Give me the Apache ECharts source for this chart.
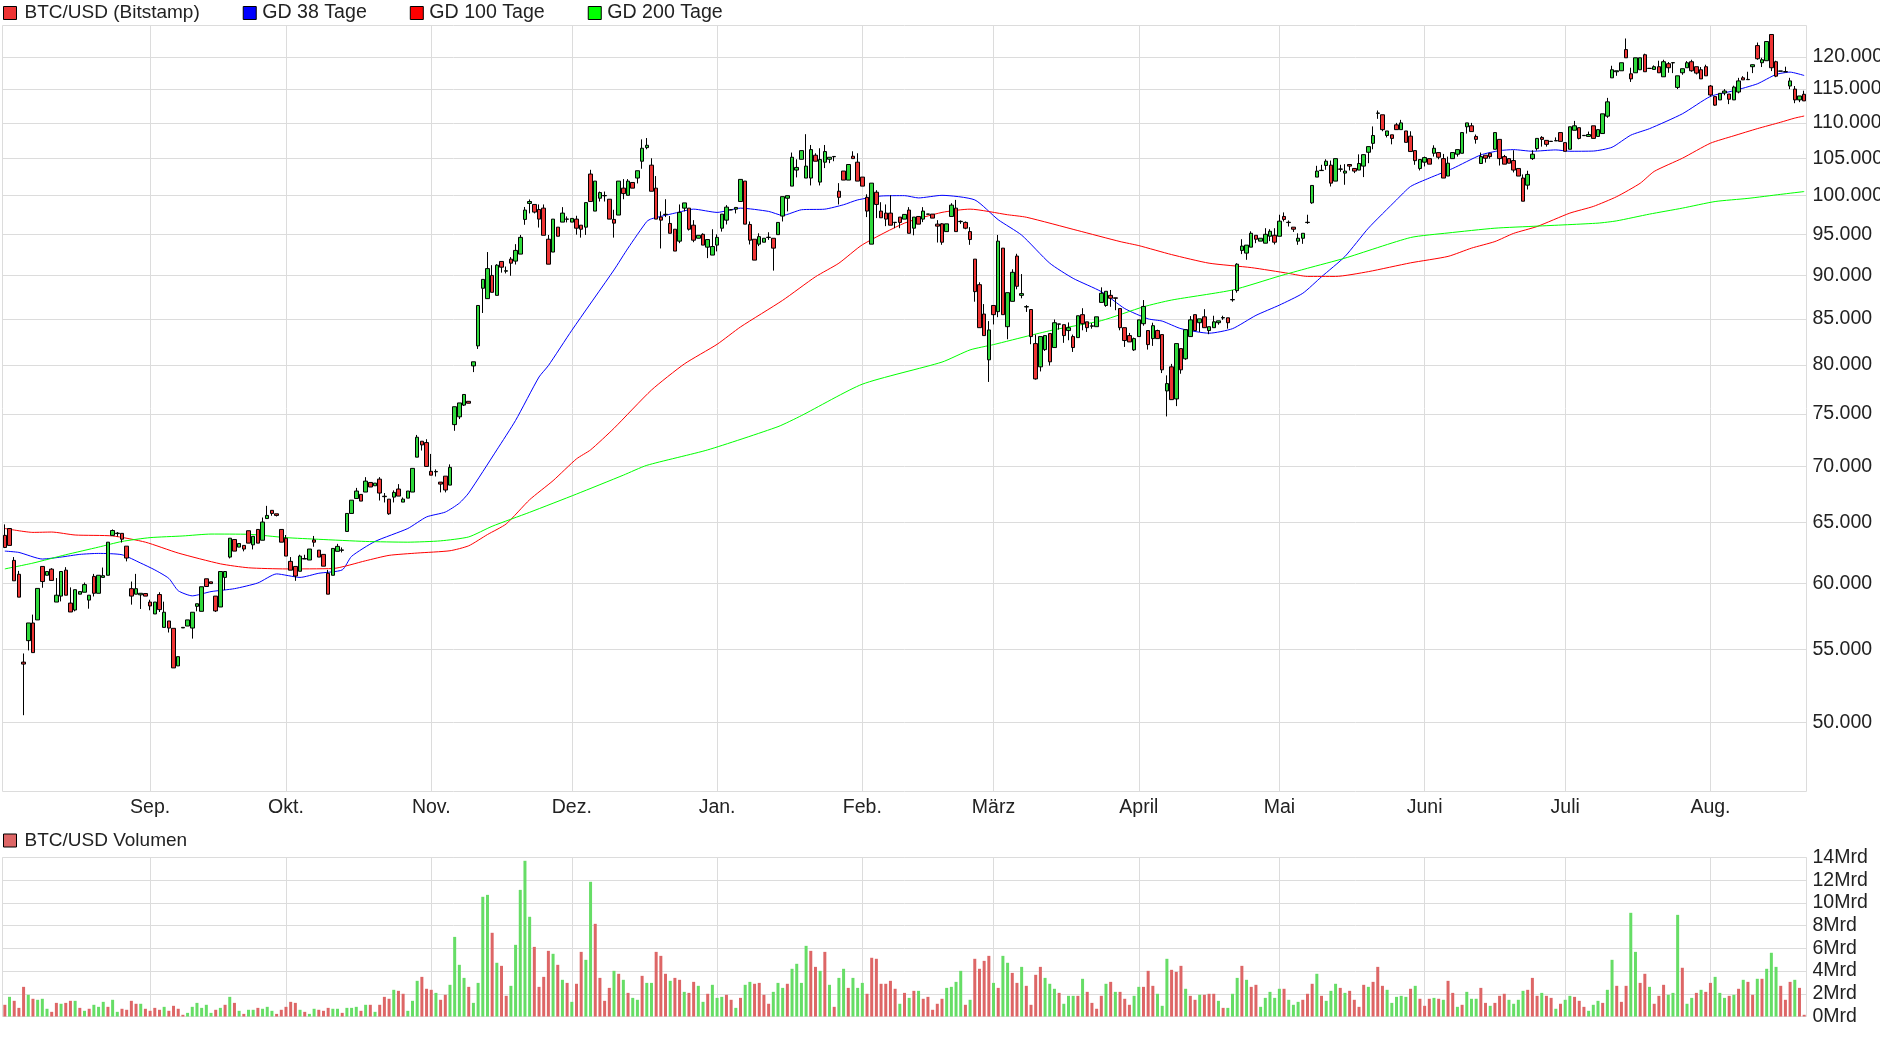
<!DOCTYPE html>
<html><head><meta charset="utf-8"><style>html,body{margin:0;padding:0;background:#fff}#c{width:1880px;height:1037px}</style>
<script src="https://cdn.jsdelivr.net/npm/echarts@6/dist/echarts.min.js"></script></head><body><div id="c"></div>
<script>
// Prices in thousands of USD, one entry per daily candle.
const opens=[63.93,64.51,61.86,60.74,54.11,55.66,56.97,57.20,61.37,60.66,
61.15,58.56,59.02,61.07,58.48,57.95,59.17,59.32,58.71,60.57,
59.24,60.49,60.66,63.93,64.08,64.10,63.03,59.60,59.17,59.12,
59.22,58.56,57.65,59.14,56.64,57.12,56.57,53.84,56.60,56.74,
56.59,58.23,57.85,60.38,60.14,59.02,58.18,60.49,62.13,63.58,
62.95,63.09,64.32,63.14,64.43,63.52,65.36,66.07,65.77,64.43,
63.69,61.78,61.37,60.98,61.97,61.89,63.55,62.70,62.35,60.82,
60.66,62.60,62.68,64.26,65.80,67.11,67.47,67.68,68.54,68.24,
68.84,67.27,67.05,67.23,67.95,66.79,67.14,67.68,70.86,72.36,
72.23,69.55,69.50,68.57,69.11,68.30,73.96,74.72,75.88,76.26,
79.90,82.03,88.49,87.29,90.00,87.67,91.67,90.50,91.95,91.71,
92.56,96.88,98.94,98.81,98.16,98.33,94.39,92.81,95.90,96.54,
96.94,96.54,96.92,96.15,95.90,102.84,97.95,99.62,99.94,99.49,
96.88,97.44,100.95,100.00,101.71,102.30,104.59,106.48,104.05,100.95,
97.18,97.50,96.37,95.64,94.15,98.33,98.33,96.15,94.51,95.00,
93.41,92.44,93.66,95.77,96.79,98.10,98.20,99.19,101.89,96.24,
94.39,93.78,94.02,94.60,94.51,94.96,97.31,99.62,101.22,103.38,
104.86,102.30,102.30,105.42,101.76,104.46,104.86,105.21,100.54,103.25,
102.03,105.28,104.46,102.43,99.74,93.78,100.41,97.95,97.69,97.69,
96.52,97.18,96.92,98.08,95.77,97.26,96.92,97.54,97.56,96.28,
96.32,95.34,97.26,98.33,96.60,96.50,95.34,91.95,88.91,85.54,
80.54,86.51,85.81,93.29,84.13,86.98,92.32,87.67,86.34,86.05,
82.28,79.80,81.63,83.37,81.85,84.40,84.35,83.70,83.04,82.93,
85.47,84.67,84.18,84.13,86.86,86.51,87.67,87.38,86.16,84.02,
83.15,81.60,83.04,84.46,83.70,82.82,83.70,83.26,77.31,79.80,
76.50,81.74,80.65,83.04,85.47,84.57,85.23,83.70,84.02,84.57,
85.10,85.12,87.15,88.22,93.01,92.68,93.41,94.88,94.15,93.90,
94.76,94.88,94.76,97.26,96.48,95.90,94.15,94.51,96.48,99.02,
102.43,103.31,104.01,104.05,101.89,103.49,102.97,104.14,103.60,103.38,
103.92,105.83,107.08,111.40,111.18,108.19,108.29,109.72,109.03,108.84,
108.10,106.06,103.60,104.46,104.95,105.69,105.79,104.95,102.57,104.95,
105.56,105.69,109.44,109.58,108.06,104.28,105.42,105.69,106.25,107.64,
105.23,104.95,104.68,103.60,102.30,101.35,104.95,106.34,107.92,107.50,
107.34,107.43,108.61,107.18,106.25,108.94,109.31,108.17,108.06,109.58,
108.06,108.47,110.98,116.72,117.66,117.81,121.14,117.34,117.50,117.97,
120.32,118.16,118.02,118.44,116.88,118.91,119.04,115.26,117.50,118.28,
119.22,118.44,117.97,118.44,115.47,113.87,113.38,114.41,114.26,113.38,
114.56,116.72,116.44,118.44,121.78,119.06,119.38,123.57,119.22,117.74,
117.64,115.47,115.00,113.38,114.22];
const closes=[62.92,63.09,60.22,58.94,53.97,56.97,54.79,59.62,60.16,60.96,
60.25,59.09,60.96,59.09,57.80,59.52,59.37,59.92,59.09,59.24,
60.66,60.63,63.36,64.34,64.12,63.61,62.05,59.02,59.60,59.24,
59.02,58.26,58.56,57.98,57.78,56.59,53.70,54.50,56.64,57.20,
57.78,58.43,59.75,59.77,60.00,57.88,60.96,60.96,63.69,62.62,
63.25,62.79,63.28,63.85,63.28,65.06,65.63,65.80,65.63,63.36,
62.21,61.07,60.60,62.21,62.01,62.79,63.36,62.13,61.39,59.17,
62.84,63.01,62.72,65.80,66.96,67.77,66.88,68.66,68.13,68.48,
67.59,67.31,65.77,67.65,67.32,67.05,67.77,69.82,72.74,72.01,
70.00,69.20,69.54,68.39,67.86,69.91,75.72,76.10,76.95,76.07,
80.33,86.51,89.53,90.81,88.02,91.22,90.98,90.56,91.46,93.01,
94.62,98.08,99.19,97.82,96.92,94.88,91.34,96.92,94.76,97.69,
96.90,97.01,95.77,95.64,99.05,99.19,101.89,100.36,99.98,96.92,
96.41,101.89,100.23,101.89,100.95,103.29,106.39,106.81,100.54,96.92,
96.79,97.54,95.13,92.93,97.78,99.01,95.64,94.27,94.88,93.66,
94.35,93.49,94.62,97.56,98.46,98.14,98.42,102.12,96.28,94.27,
91.83,94.71,94.51,94.64,93.29,96.50,99.83,99.96,105.14,103.74,
106.06,103.92,106.20,104.59,104.82,105.93,105.14,105.25,99.74,102.03,
104.14,104.95,101.89,101.22,97.95,101.62,98.81,97.09,96.92,96.15,
96.48,96.50,97.52,95.13,97.18,96.28,97.95,97.58,97.05,96.03,
94.02,96.32,98.72,95.34,96.64,95.77,94.35,88.10,84.02,83.15,
83.77,85.47,94.15,85.47,87.98,90.37,88.72,87.87,86.38,83.04,
78.54,83.04,83.15,80.33,84.57,84.44,83.15,84.02,81.85,85.35,
84.46,84.02,84.22,85.23,87.91,88.14,87.33,87.34,84.02,82.61,
82.46,82.82,84.89,86.40,82.17,84.24,82.82,79.49,78.06,76.43,
82.28,79.49,83.80,84.89,83.70,85.00,84.02,84.13,84.67,84.78,
85.14,84.57,87.19,91.34,93.54,93.66,95.13,94.39,94.51,95.00,
95.38,94.02,96.66,96.88,96.52,95.64,94.51,95.13,96.52,101.31,
103.24,103.35,104.59,101.62,104.95,103.53,103.24,103.92,103.24,104.28,
105.50,106.62,108.19,111.44,109.03,108.84,107.78,109.03,110.00,107.22,
105.93,104.67,104.82,105.09,104.19,106.39,105.14,102.30,104.32,105.79,
106.20,108.61,110.00,108.75,107.64,105.23,105.00,105.23,108.61,104.95,
104.19,104.32,103.38,102.57,99.23,102.79,105.56,107.78,107.64,106.94,
107.38,107.47,107.36,105.97,109.44,109.58,107.78,108.21,108.33,107.78,
109.03,111.32,113.09,117.97,117.81,119.06,119.84,116.56,119.84,119.84,
117.66,118.20,118.44,117.50,119.22,118.28,119.08,117.03,118.13,119.06,
117.81,117.45,116.56,117.03,114.12,112.60,114.36,114.71,113.48,115.31,
116.25,116.41,116.48,118.75,119.69,119.53,122.43,118.28,116.98,117.78,
117.68,116.25,113.38,113.97,113.23];
const lows=[62.87,63.09,60.22,58.94,50.46,54.95,54.79,57.20,59.67,60.66,
60.25,58.56,58.61,59.09,57.80,57.85,59.17,59.32,58.05,58.99,
59.24,60.49,60.66,63.93,63.83,63.33,61.78,58.36,59.17,58.03,
59.02,57.93,57.65,57.80,56.64,56.26,53.70,53.84,56.60,56.74,
55.81,57.85,57.85,59.77,60.00,57.80,58.18,59.49,62.02,62.62,
62.95,62.60,63.28,62.76,63.28,63.52,65.36,65.60,65.54,63.36,
62.21,61.07,60.22,60.98,61.97,61.89,62.98,62.13,61.39,59.17,
60.66,62.60,62.51,64.26,65.80,67.11,66.88,67.68,68.13,68.24,
66.93,66.76,65.68,66.76,67.32,66.79,67.14,67.68,70.86,71.48,
70.00,69.20,69.08,67.65,67.65,68.30,73.36,74.50,75.79,76.07,
79.25,81.70,85.66,87.29,88.02,87.67,90.33,90.24,89.96,91.30,
92.56,96.20,97.65,97.65,95.85,94.88,91.34,92.81,94.76,96.54,
96.50,96.54,94.96,94.59,94.92,99.19,97.95,99.19,99.19,96.92,
94.59,97.44,99.49,100.00,100.95,101.58,103.56,106.25,100.54,96.92,
93.25,97.18,95.13,92.93,93.90,97.91,95.47,94.02,94.51,93.66,
92.07,92.44,92.89,95.34,96.24,98.10,97.65,99.19,96.28,93.74,
91.83,93.54,94.02,94.31,90.57,94.96,96.62,97.91,101.22,102.39,
104.86,102.30,101.31,104.59,101.31,103.65,104.32,104.59,98.81,102.03,
102.03,104.95,101.89,101.22,97.18,93.78,97.05,97.09,96.03,96.15,
95.77,95.77,96.92,95.13,94.88,96.28,96.54,97.54,97.05,93.98,
93.70,95.34,97.26,95.34,96.32,95.64,93.70,86.94,84.02,83.15,
78.23,84.38,85.19,85.47,82.75,86.98,88.37,87.33,85.78,82.21,
78.47,79.32,81.49,79.93,81.85,83.80,82.36,82.64,81.38,82.93,
83.73,83.55,83.91,84.13,86.86,86.36,86.36,85.97,83.73,81.92,
82.46,81.49,83.04,84.24,81.63,82.03,82.82,79.15,74.76,76.43,
75.78,79.08,80.54,83.04,83.70,83.55,84.02,83.30,84.02,84.35,
84.89,83.91,86.94,87.98,92.56,91.87,93.41,93.90,94.15,93.90,
94.15,93.74,94.76,96.62,95.98,95.30,93.70,93.82,96.32,98.89,
102.43,103.31,103.42,101.17,101.89,103.15,101.40,103.33,102.97,103.38,
102.43,104.32,106.25,110.59,108.80,107.92,106.94,109.03,109.03,107.22,
105.93,104.10,103.33,103.87,104.19,105.23,104.86,102.30,102.57,104.95,
105.23,105.69,108.47,108.75,107.04,104.28,104.41,104.95,106.25,104.00,
104.19,104.32,103.06,102.57,99.23,100.77,104.77,106.06,106.62,106.62,
107.34,107.43,107.36,105.97,106.25,108.94,107.64,108.17,108.06,107.78,
108.06,108.47,110.74,116.72,117.03,117.81,119.84,116.09,117.50,117.97,
117.66,118.16,118.02,117.50,116.88,117.50,117.45,115.00,117.19,118.28,
117.66,117.24,116.56,117.03,113.87,112.50,113.38,114.07,112.75,113.38,
114.36,116.41,116.44,117.45,119.53,118.39,119.38,117.76,116.82,117.74,
117.64,115.00,112.89,113.04,113.23];
const highs=[64.86,64.51,62.13,61.01,54.73,56.97,57.60,59.62,61.37,60.96,
61.23,60.44,60.96,61.31,59.70,59.52,59.37,60.08,59.09,60.77,
60.66,61.28,63.36,64.43,64.21,64.10,63.03,60.16,60.77,59.24,
59.22,58.74,58.56,59.32,58.59,57.12,56.57,54.50,56.64,57.20,
57.78,58.43,59.75,60.38,60.14,59.02,60.96,60.96,63.69,63.58,
63.25,63.09,64.32,63.85,64.43,65.45,66.46,66.07,65.77,64.43,
63.96,62.13,61.37,62.32,62.32,62.79,63.88,62.70,62.35,61.09,
62.84,63.22,62.92,65.80,66.96,68.05,67.47,69.02,68.54,68.48,
69.02,67.59,67.05,67.83,68.39,67.20,67.77,69.82,72.96,72.36,
72.55,71.16,69.73,68.57,69.11,70.19,75.72,76.10,76.95,76.26,
80.33,86.51,89.53,92.81,91.22,91.34,91.67,91.06,92.20,93.78,
94.92,98.48,99.46,98.81,98.81,98.81,94.92,96.92,95.90,98.46,
97.26,97.01,97.35,96.15,99.05,103.42,101.89,100.50,100.50,99.49,
98.12,101.89,102.16,102.16,101.71,103.29,107.64,107.83,105.00,102.57,
97.91,99.49,97.31,95.64,98.81,99.01,98.33,96.79,94.88,95.13,
94.35,95.64,95.00,97.56,98.72,98.14,98.42,102.12,101.89,96.62,
94.39,95.13,94.51,95.26,94.51,96.50,99.83,99.96,105.79,104.86,
106.06,108.38,106.85,105.69,106.39,106.85,105.14,105.30,101.62,103.25,
104.14,105.97,105.69,102.43,100.14,101.62,100.68,99.10,98.81,100.00,
96.52,97.18,97.52,98.46,97.18,97.26,98.46,97.58,97.56,96.79,
96.41,96.32,98.97,99.40,96.75,96.62,95.90,91.95,89.19,86.67,
84.75,86.51,94.92,93.29,87.98,90.73,92.60,90.16,86.55,86.05,
83.26,83.04,83.15,83.37,84.93,84.44,84.35,84.60,83.26,85.35,
86.20,84.67,84.53,85.23,88.60,88.14,88.29,87.38,86.16,84.02,
83.44,82.93,84.89,87.13,83.70,84.57,83.80,83.26,78.91,80.11,
82.28,81.74,83.80,85.31,85.47,85.00,86.09,84.13,85.35,84.78,
85.35,85.12,88.29,91.46,94.39,93.66,95.38,94.88,94.51,95.77,
95.64,95.77,97.48,97.78,96.75,95.90,95.13,95.13,97.48,101.31,
103.96,104.10,104.86,104.68,104.95,104.10,104.19,104.14,103.60,105.54,
105.54,106.62,109.49,111.81,111.18,108.84,108.29,110.00,110.44,108.84,
108.80,106.06,104.82,105.23,104.95,106.81,105.79,105.60,105.23,105.79,
106.20,108.61,110.00,110.00,108.33,105.79,105.42,105.69,108.61,107.64,
105.46,104.95,106.11,103.60,102.79,103.29,106.11,107.78,108.10,107.50,
107.38,107.92,108.61,107.18,109.44,110.29,109.31,108.21,108.75,109.58,
109.03,111.32,113.68,118.59,117.81,119.06,122.92,118.28,119.84,119.84,
120.49,118.20,118.65,119.38,119.53,119.17,119.08,117.03,118.13,119.32,
119.53,118.44,118.39,118.75,115.62,113.87,114.36,115.00,114.26,115.52,
116.72,116.98,117.66,118.80,122.27,119.84,122.43,123.57,119.38,117.78,
118.44,116.72,115.47,113.97,114.76];
// Trading volume in Mrd per day
const volumes=[1.03,1.73,1.38,0.76,2.61,1.91,1.56,1.47,1.56,0.68,
0.41,1.20,1.12,1.20,1.38,1.38,0.76,0.50,0.68,1.03,
0.85,1.29,0.85,1.47,0.41,0.68,0.59,1.38,1.12,1.12,
0.68,0.50,0.76,0.59,0.85,0.50,0.94,0.68,0.15,0.32,
0.85,1.20,0.76,1.03,0.32,0.59,0.76,1.03,1.73,1.20,
0.50,0.23,0.59,0.59,0.76,0.68,0.85,0.50,0.23,0.59,
0.85,1.29,1.20,0.59,0.41,0.23,0.68,0.59,0.50,0.76,
0.68,0.68,0.32,0.76,0.76,0.85,0.50,1.03,1.03,0.41,
1.03,1.73,1.56,2.35,2.26,2.00,0.50,1.38,3.14,3.49,
2.44,2.35,2.08,1.47,1.91,2.79,7.01,4.55,3.40,2.61,
1.20,2.96,10.54,10.71,7.37,4.73,4.46,1.82,2.70,6.31,
11.15,13.71,8.78,6.13,2.61,3.49,5.78,5.52,4.55,3.23,
2.96,1.29,2.88,5.69,4.99,11.86,8.16,3.40,1.38,2.52,
4.02,3.76,3.23,2.08,1.64,1.47,3.58,2.96,2.96,5.69,
5.34,3.76,3.14,3.40,3.23,2.17,2.08,3.05,2.70,1.29,
2.00,2.79,1.64,1.73,1.91,1.47,0.76,1.64,2.79,3.05,
2.88,2.96,1.91,1.12,2.17,2.96,2.52,2.88,4.20,4.64,
2.96,6.22,5.78,4.37,4.02,5.69,2.79,0.85,3.40,4.20,
2.52,3.40,2.52,2.96,2.00,5.17,5.08,2.88,2.88,3.14,
2.44,1.12,2.08,1.64,2.26,2.26,1.56,1.73,0.59,1.12,
1.56,2.52,2.61,3.05,4.02,1.03,1.47,5.08,4.20,4.90,
5.34,2.96,2.52,5.34,4.73,3.84,2.96,4.37,2.70,1.03,
3.67,4.37,3.40,2.88,2.44,2.08,1.12,1.82,1.82,1.82,
3.32,2.17,1.20,0.68,1.82,2.88,3.05,2.17,2.17,1.56,
1.03,1.82,2.61,2.61,4.02,2.70,2.00,0.94,5.08,4.11,
3.93,4.46,2.44,1.82,1.47,1.91,1.91,2.00,2.00,1.38,
0.76,0.76,2.00,3.40,4.46,3.23,2.61,2.79,0.85,1.64,
2.17,1.64,2.44,2.44,1.47,1.03,1.29,1.47,2.00,2.88,
3.76,1.82,1.38,2.26,2.88,2.52,2.08,2.26,1.47,0.85,
2.79,2.61,3.05,4.37,2.70,2.35,1.20,1.73,1.82,1.73,
2.44,2.70,1.56,0.94,1.56,1.64,1.56,1.47,3.14,2.08,
0.85,1.03,2.17,1.56,1.56,2.52,1.20,0.94,1.20,1.82,
2.00,1.47,1.12,1.47,2.26,2.35,3.40,1.82,2.08,1.82,
1.64,0.68,1.12,1.47,1.82,1.73,1.38,0.85,0.50,1.03,
1.38,1.20,2.35,4.99,2.70,1.29,2.70,9.13,5.69,2.96,
3.76,2.61,1.12,1.82,2.79,1.91,2.08,8.95,4.29,1.12,
1.64,2.08,2.35,2.17,2.96,3.49,2.08,1.64,1.82,1.91,
2.44,3.23,3.05,1.91,3.32,3.32,4.20,5.61,4.37,2.70,
1.47,3.05,3.23,2.52,0.15];
// Colour of each volume bar: g = green, r = red
const volumeSides='rgrrrgrgggrrgrrgrgrgggrggrrrrgrrrrgrrrrggggggrgrgrgrggrgggrrrrrgrggrrrggrgggrgrgrrrgrrgggrrrgrrggggrggggrgrrgggggrrrrgrgrgrrggrrrrgrgrggrggrrrgrrgrrggrgggrrgrggrrrrgggrggggrrgrgrggrgggrrrrrrrgrgrgrrrrrggggrgrrrrgrggrrgrrrrgggrgggrgrrrrgrgrrrggrrrgggrrrgrrgrrrgrgggrgrrgggggrgggrrrgrgggrgrrrrgrrrgggggrgrrrgrgrrgrgggrrgrrrggggrrrgrrgrggrrrgggrggrrrggrrgrrrgggrggrgrrgggrgrgrrgrgggrrrgrrggrgggggrgrrgrrrgr';
// Moving averages: bar index and value in thousands of USD, read at these bars
const gd38Idx=[0,3,8,12,16,20,25,29,32,35,37,40,44,49,54,58,63,67,72,74,79,86,90,94,97,99,105,109,114,116,121,130,133,137,138,143,147,152,157,163,166,170,175,179,182,187,192,195,200,207,212,217,223,228,234,239,244,247,251,257,262,267,272,277,281,286,291,297,300,304,309,315,319,322,326,331,334,339,343,347,351,358,364,369,374,378,381,384];
const gd38=[62.62,62.51,61.97,62.13,62.35,62.43,62.32,61.64,61.09,60.41,59.44,59.04,59.37,59.60,60.05,60.77,60.49,60.82,61.09,62.19,63.42,64.51,65.50,65.92,66.70,67.60,71.54,74.37,78.74,79.93,83.73,90.65,93.29,96.62,96.96,97.69,98.20,97.78,98.33,97.91,97.39,98.12,98.20,98.77,99.40,99.91,99.96,99.66,100.00,99.40,96.84,94.90,91.46,89.65,88.10,86.16,85.00,84.75,83.91,83.41,83.91,85.39,86.55,87.91,89.84,92.27,95.77,99.40,101.17,102.30,103.60,105.46,106.06,106.20,105.97,106.16,105.97,106.00,106.53,108.24,109.17,111.32,113.90,114.76,115.80,117.24,117.60,117.08];
const gd100Idx=[0,6,10,15,23,30,37,46,52,60,70,77,82,88,95,99,103,107,112,117,122,125,130,138,145,152,157,166,173,178,183,192,200,206,214,218,229,238,242,249,257,266,274,278,284,291,300,308,313,318,322,327,334,339,344,349,352,358,364,369,374,379,382,384];
const gd100=[64.51,64.18,64.21,63.96,63.88,63.36,62.46,61.58,61.26,61.17,61.20,61.83,62.27,62.46,62.65,63.06,64.00,64.90,67.00,68.70,70.70,71.54,73.60,77.40,80.10,82.20,84.10,87.10,89.84,91.46,93.70,96.41,97.78,98.20,97.48,97.16,95.47,94.10,93.60,92.50,91.46,90.93,90.24,89.88,89.88,90.45,91.50,92.28,93.29,94.10,95.12,95.98,97.69,98.55,99.83,101.60,103.20,105.00,107.10,108.15,109.17,110.10,110.70,111.00];
const gd200Idx=[0,6,13,20,25,31,38,44,52,60,67,77,86,93,99,104,112,122,132,137,150,165,170,183,200,206,211,219,224,234,243,249,262,272,278,286,300,308,318,327,340,344,351,358,365,372,379,384];
const gd200=[61.17,61.64,62.32,62.95,63.42,63.74,63.88,64.04,64.02,63.74,63.60,63.42,63.36,63.47,63.80,64.70,65.90,67.50,69.20,70.10,71.54,73.76,74.84,78.00,80.30,81.60,82.17,83.19,83.80,84.80,86.36,87.13,88.29,89.92,90.85,92.07,94.60,95.17,95.77,96.03,96.41,96.70,97.56,98.33,99.19,99.60,100.13,100.50];
// Month ticks
const monthIdx=[31,60,91,121,152,183,211,242,272,303,333,364];
const monthLabels=['Sep.','Okt.','Nov.','Dez.','Jan.','Feb.','März','April','Mai','Juni','Juli','Aug.'];
const priceTicks=[50000,55000,60000,65000,70000,75000,80000,85000,90000,95000,100000,105000,110000,115000,120000];
const days=opens.map((_,i)=>'T'+i);

const FONT='"Liberation Sans", Arial, sans-serif';
const GREY='#dcdcdc', GREEN='#2fd93c', RED='#ee3434', VG='#66dd66', VR='#dd6666';
const isMonth=i=>monthIdx.includes(i);
const fmt=v=>String(Math.round(v)).replace(/(\d)(?=(\d{3})$)/,'$1.');
const candleData=opens.map((o,i)=>[o*1000,closes[i]*1000,lows[i]*1000,highs[i]*1000]);
const volData=volumes.map((v,i)=>({value:v,itemStyle:{color:volumeSides[i]==='g'?VG:VR}}));
const line=(name,idx,vals,color)=>({name,type:'line',xAxisIndex:0,yAxisIndex:0,data:idx.map((k,j)=>[k,vals[j]*1000]),
  showSymbol:false,symbol:'none',silent:true,lineStyle:{color,width:1},itemStyle:{color},z:5,smooth:0.2});
const legendItem=(name,color,text)=>({name,icon:'rect',itemStyle:{color,borderColor:'#000',borderWidth:1},textStyle:text});
const gdText={fontSize:19.6,padding:[0,0,0,1]};
const monthAxis=(gridIndex,showLabel)=>({type:'category',gridIndex,data:days,boundaryGap:true,
  axisLine:{show:false},axisTick:{show:false,interval:i=>isMonth(i),alignWithLabel:true},
  splitLine:{show:true,interval:i=>isMonth(i),alignWithLabel:true,lineStyle:{color:GREY,width:1}},
  axisLabel:{show:showLabel,interval:i=>isMonth(i),margin:6,fontFamily:FONT,fontSize:19.5,color:'#222',
    formatter:(v,i)=>monthLabels[monthIdx.indexOf(i)]||''}});
const option={animation:false,backgroundColor:'#fff',
 legend:[{left:3,top:3,itemWidth:13,itemHeight:13,itemGap:43,selectedMode:false,padding:0,
   textStyle:{fontFamily:FONT,fontSize:19,color:'#222',padding:[0,0,0,3]},
   data:[legendItem('BTC/USD (Bitstamp)',RED),legendItem('GD 38 Tage','#0000ff',gdText),legendItem('GD 100 Tage','#ff0000',gdText),legendItem('GD 200 Tage','#00ff00',gdText)]},
  {left:3,top:831,itemWidth:13,itemHeight:13,selectedMode:false,padding:0,
   textStyle:{fontFamily:FONT,fontSize:19,color:'#222',padding:[0,0,0,3]},
   data:[legendItem('BTC/USD Volumen',VR)]}],
 grid:[{left:2.5,top:25.5,width:1804,height:766,show:true,borderColor:GREY,borderWidth:1,backgroundColor:'transparent',outerBoundsMode:'none'},
       {left:2.5,top:857.5,width:1804,height:159,show:true,borderColor:GREY,borderWidth:1,backgroundColor:'transparent',outerBoundsMode:'none'}],
 xAxis:[monthAxis(0,true),monthAxis(1,false)],
 yAxis:[{type:'log',gridIndex:0,position:'right',min:45640,max:125040,logBase:10,
    axisLine:{show:false},axisTick:{show:false,customValues:priceTicks},
    minorTick:{show:false},minorSplitLine:{show:false},
    splitLine:{show:true,lineStyle:{color:GREY,width:1}},
    axisLabel:{customValues:priceTicks,margin:6,padding:[2,0,0,0],fontFamily:FONT,fontSize:19.5,color:'#222',formatter:v=>fmt(v),showMinLabel:true,showMaxLabel:true}},
  {type:'value',gridIndex:1,position:'right',min:0,max:14,interval:2,
    axisLine:{show:false},axisTick:{show:false},splitLine:{show:true,lineStyle:{color:GREY,width:1}},
    axisLabel:{margin:6,padding:[2,0,0,0],fontFamily:FONT,fontSize:19.5,color:'#222',showMinLabel:true,showMaxLabel:true,formatter:v=>v+'Mrd'}}],
 series:[{name:'BTC/USD (Bitstamp)',type:'candlestick',xAxisIndex:0,yAxisIndex:0,data:candleData,barWidth:4,z:6,large:false,silent:true,
    itemStyle:{color:GREEN,color0:RED,borderColor:'#000',borderColor0:'#000',borderWidth:1}},
  line('GD 38 Tage',gd38Idx,gd38,'#0000ff'),line('GD 100 Tage',gd100Idx,gd100,'#ff0000'),line('GD 200 Tage',gd200Idx,gd200,'#00ff00'),
  {name:'BTC/USD Volumen',type:'bar',xAxisIndex:1,yAxisIndex:1,data:volData,barWidth:3,silent:true,itemStyle:{color:VR}}]};
const chart=echarts.init(document.getElementById('c'),null,{renderer:'canvas',width:1880,height:1037});
chart.setOption(option);
</script></body></html>
